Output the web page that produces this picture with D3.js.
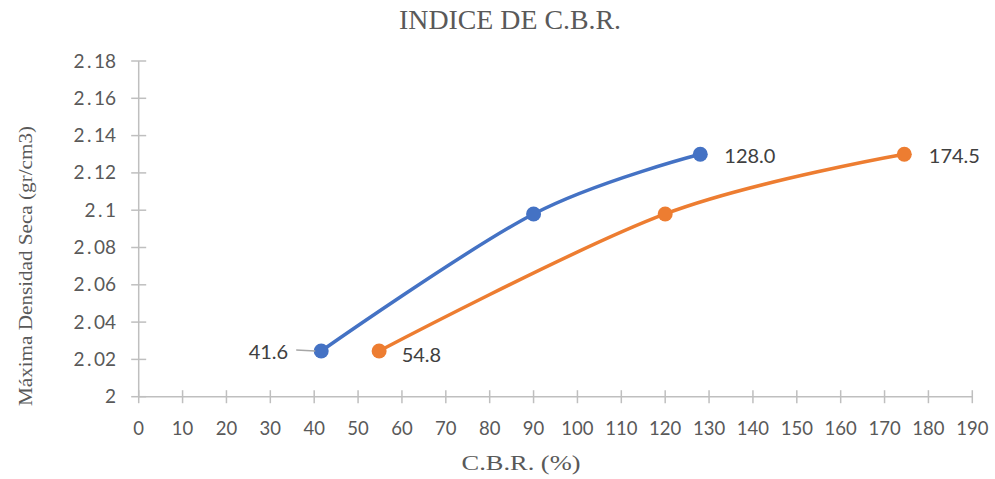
<!DOCTYPE html>
<html>
<head>
<meta charset="utf-8">
<script src="https://cdn.jsdelivr.net/npm/d3@7"></script>
<style>
  body { margin: 0; background: #fff; }
  svg { display: block; }
</style>
</head>
<body>
<script>
// datos
const cbrAzul = [41.6, 90, 128.0];
const densAzul = [2.0245, 2.098, 2.130];
const cbrNaranja = [54.8, 120, 174.5];
const densNaranja = [2.0245, 2.098, 2.130];
const xTicks = d3.range(0, 191, 10);
const yTicks = [2, 2.02, 2.04, 2.06, 2.08, 2.1, 2.12, 2.14, 2.16, 2.18];
const etiquetasAzul = ["41.6", "", "128.0"];
const etiquetasNaranja = ["54.8", "", "174.5"];

const width = 995;
const height = 479;

const svg = d3.select('body').append('svg')
    .attr('width', width)
    .attr('height', height);

svg.append('rect')
    .attr('width', width)
    .attr('height', height)
    .style('fill', '#fff');

const x = d3.scaleLinear().domain([0, 190]).range([138.7, 972.3]);
const y = d3.scaleLinear().domain([2, 2.18]).range([396.7, 61]);

const gris = '#bfbfbf';
const texto = '#595959';
const sans = 'Lato, "Open Sans", sans-serif';
const serif = '"Liberation Serif", "Times New Roman", serif';

// eje Y
svg.append('line')
    .attr('x1', x(0)).attr('x2', x(0))
    .attr('y1', y(2.18)).attr('y2', y(2))
    .style('stroke', gris).style('stroke-width', 1.5);
svg.selectAll('.ytick')
    .data(yTicks)
    .enter()
    .append('line')
    .attr('x1', x(0) - 7.5).attr('x2', x(0) + 7.5)
    .attr('y1', d => y(d)).attr('y2', d => y(d))
    .style('stroke', gris).style('stroke-width', 1.5);
const ylab = svg.selectAll('.ylab')
    .data(yTicks)
    .enter()
    .append('text')
    .attr('x', 116)
    .attr('y', d => y(d) + 6.5)
    .attr('text-anchor', 'end')
    .style('font-family', sans)
    .style('font-size', '19px')
    .style('fill', texto);
// separar el punto decimal un poco (como en el original)
ylab.each(function (d) {
    const partes = String(+d.toFixed(2)).split('.');
    const t = d3.select(this);
    t.append('tspan').text(partes[0]);
    if (partes.length > 1) {
        t.append('tspan').attr('dx', 2.5).text('.');
        t.append('tspan').attr('dx', 2.5).text(partes[1]);
    }
});

// eje X
svg.append('line')
    .attr('x1', x(0)).attr('x2', x(190))
    .attr('y1', y(2)).attr('y2', y(2))
    .style('stroke', gris).style('stroke-width', 1.5);
svg.selectAll('.xtick')
    .data(xTicks)
    .enter()
    .append('line')
    .attr('x1', d => x(d)).attr('x2', d => x(d))
    .attr('y1', y(2) - 6.5).attr('y2', y(2) + 6.5)
    .style('stroke', gris).style('stroke-width', 1.5);
svg.selectAll('.xlab')
    .data(xTicks)
    .enter()
    .append('text')
    .attr('x', d => x(d))
    .attr('y', 435)
    .attr('text-anchor', 'middle')
    .style('font-family', sans)
    .style('font-size', '18.5px')
    .style('fill', texto)
    .text(d => d);

// titulos
svg.append('text')
    .attr('x', 510).attr('y', 29)
    .attr('text-anchor', 'middle')
    .style('font-family', serif)
    .style('font-size', '27px')
    .style('fill', texto)
    .attr('textLength', 222)
    .attr('lengthAdjust', 'spacingAndGlyphs')
    .text('INDICE DE C.B.R.');
svg.append('text')
    .attr('x', 521).attr('y', 470)
    .attr('text-anchor', 'middle')
    .style('font-family', serif)
    .style('font-size', '20px')
    .style('fill', texto)
    .attr('textLength', 119)
    .attr('lengthAdjust', 'spacingAndGlyphs')
    .text('C.B.R. (%)');
svg.append('text')
    .attr('transform', 'translate(32,266) rotate(-90)')
    .attr('text-anchor', 'middle')
    .style('font-family', serif)
    .style('font-size', '19.5px')
    .style('fill', texto)
    .attr('textLength', 280)
    .attr('lengthAdjust', 'spacingAndGlyphs')
    .text('Máxima Densidad Seca (gr/cm3)');

// series
const linea = d3.line()
    .x(d => x(d[0]))
    .y(d => y(d[1]))
    .curve(d3.curveCatmullRom.alpha(0));

function serie(xs, ys, color) {
    const pts = xs.map((v, i) => [v, ys[i]]);
    svg.append('path')
        .attr('d', linea(pts))
        .style('fill', 'none')
        .style('stroke', color)
        .style('stroke-width', 3.5)
        .style('stroke-linecap', 'round');
    svg.selectAll(null)
        .data(pts)
        .enter()
        .append('circle')
        .attr('cx', d => x(d[0]))
        .attr('cy', d => y(d[1]))
        .attr('r', 7.5)
        .style('fill', color);
    return pts;
}

const ptsA = serie(cbrAzul, densAzul, '#4472C4');
const ptsN = serie(cbrNaranja, densNaranja, '#ED7D31');

// etiquetas de datos
function etiqueta(p, txt, dx, dy, anchor) {
    svg.append('text')
        .attr('x', x(p[0]) + dx)
        .attr('y', y(p[1]) + dy)
        .attr('text-anchor', anchor)
        .style('font-family', sans)
        .style('font-size', '20px')
        .style('fill', '#404040')
        .text(txt);
}
// 41.6 con linea guia
svg.append('line')
    .attr('x1', x(ptsA[0][0]) - 25).attr('x2', x(ptsA[0][0]) - 6)
    .attr('y1', y(ptsA[0][1]) - 1).attr('y2', y(ptsA[0][1]))
    .style('stroke', '#a6a6a6').style('stroke-width', 1.3);
etiqueta(ptsA[0], etiquetasAzul[0], -33, 8, 'end');
etiqueta(ptsA[2], etiquetasAzul[2], 24, 8.5, 'start');
etiqueta(ptsN[0], etiquetasNaranja[0], 22.5, 10.5, 'start');
etiqueta(ptsN[2], etiquetasNaranja[2], 24.5, 8.5, 'start');
</script>
</body>
</html>
